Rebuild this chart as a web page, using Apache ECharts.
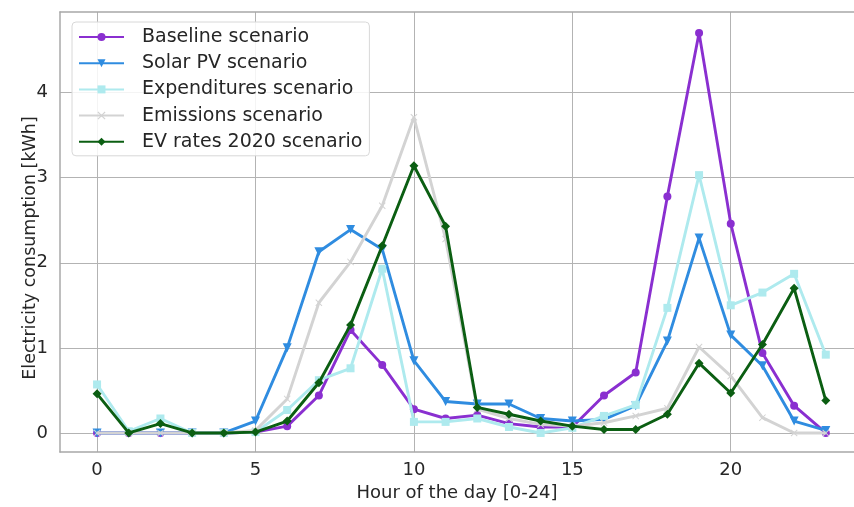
<!DOCTYPE html>
<html>
<head>
<meta charset="utf-8">
<script src="https://cdn.jsdelivr.net/npm/echarts@6/dist/echarts.min.js"></script>
<style>
html,body{margin:0;padding:0;background:#fff;}
#chart{width:854px;height:507px;}
</style>
</head>
<body>
<div id="chart"></div>
<script>
const hours = [0,1,2,3,4,5,6,7,8,9,10,11,12,13,14,15,16,17,18,19,20,21,22,23];
const seriesNames = ["Baseline scenario","Solar PV scenario","Expenditures scenario","Emissions scenario","EV rates 2020 scenario"];
const baseline = [0,0,0,0,0,0.01,0.08,0.44,1.21,0.80,0.28,0.17,0.21,0.11,0.07,0.07,0.44,0.71,2.78,4.70,2.46,0.94,0.32,0];
const solarPV = [0,0,0,0,0,0.14,1.00,2.13,2.39,2.16,0.85,0.37,0.34,0.34,0.17,0.14,0.16,0.32,1.08,2.29,1.15,0.79,0.14,0.03];
const expenditures = [0.57,0.02,0.17,0,0,0.01,0.27,0.62,0.76,1.93,0.13,0.13,0.17,0.07,0,0.06,0.20,0.33,1.47,3.03,1.50,1.65,1.87,0.92];
const emissions = [0,0,0,0,0,0.03,0.40,1.53,2.01,2.67,3.71,2.28,0.28,0.17,0.10,0.08,0.12,0.20,0.29,1.01,0.67,0.18,0,0];
const evRates = [0.46,0,0.11,0,0,0.01,0.14,0.59,1.27,2.20,3.14,2.43,0.30,0.22,0.14,0.08,0.04,0.04,0.22,0.82,0.47,1.04,1.70,0.38];
const xTicks = [0,5,10,15,20];
const yTicks = [0,1,2,3,4];
const xTitle = 'Hour of the day [0-24]';
const yTitle = 'Electricity consumption [kWh]';

const colors = ["#8a2fd0","#2f8ce0","#aeeaee","#d3d3d3","#0b5e12"];
const symbols = ["circle","triangle","rect","path://M0,1L1,0L5,4L9,0L10,1L6,5L10,9L9,10L5,6L1,10L0,9L4,5Z","diamond"];
const symbolSizes = [8,9,8,7,9];
const rotates = [0,180,0,0,0];
const allData = [baseline, solarPV, expenditures, emissions, evRates];

const font = "'DejaVu Sans', 'Liberation Sans', Arial, sans-serif";
const txt = '#262626';
const borderCol = '#a8a8a8';
const gridCol = '#b3b3b3';
const chart = echarts.init(document.getElementById('chart'), null, {renderer:'canvas'});

const series = seriesNames.map((n,i)=>({
  name:n,
  type:'line',
  data: hours.map((h,j)=>[h, allData[i][j]]),
  symbol: symbols[i],
  symbolSize: symbolSizes[i],
  symbolRotate: rotates[i],
  showAllSymbol: true,
  lineStyle:{color:colors[i], width:2.9},
  itemStyle:{color:colors[i]},
  emphasis:{disabled:true},
  animation:false,
  z: 2+i
}));

chart.setOption({
  animation:false,
  color: colors,
  grid:{left:60, top:12, bottom:51, right:0, show:false},
  legend:{
    orient:'vertical', left:72, top:22,
    data: seriesNames,
    itemWidth:45, itemHeight:10, itemGap:6.2,
    padding:[5,7,4,6],
    backgroundColor:'rgba(255,255,255,0.85)',
    borderColor:'#d8d8d8', borderWidth:1, borderRadius:4,
    textStyle:{fontFamily:font, fontSize:19, lineHeight:20, color:txt, padding:[0,0,0,13]}
  },
  graphic:[{
    type:'text', x:30, y:248, rotation:Math.PI/2,
    style:{text:yTitle, fontFamily:font, fontSize:17.5, fill:txt, align:'center', verticalAlign:'middle'}
  }],
  xAxis:[{
    type:'value', min:-1.17, max:23.89,
    name:xTitle, nameLocation:'middle', nameGap:29,
    nameTextStyle:{fontFamily:font, fontSize:18, color:txt},
    axisLine:{show:true, onZero:false, lineStyle:{color:borderCol, width:1.5}},
    axisTick:{show:false, customValues:xTicks},
    axisLabel:{customValues:xTicks, fontFamily:font, fontSize:18, color:txt, margin:9},
    splitLine:{show:true, lineStyle:{color:gridCol, width:1}}
  },{
    type:'value', min:-1.17, max:23.89, position:'top',
    axisLine:{show:true, onZero:false, lineStyle:{color:borderCol, width:1.5}},
    axisTick:{show:false}, axisLabel:{show:false}, splitLine:{show:false}
  }],
  yAxis:{
    type:'value', min:-0.225, max:4.947,
    axisLine:{show:true, onZero:false, lineStyle:{color:borderCol, width:1.5}},
    axisTick:{show:false, customValues:yTicks},
    axisLabel:{customValues:yTicks, fontFamily:font, fontSize:18, color:txt, margin:12},
    splitLine:{show:true, lineStyle:{color:gridCol, width:1}}
  },
  series: series
});
</script>
</body>
</html>
